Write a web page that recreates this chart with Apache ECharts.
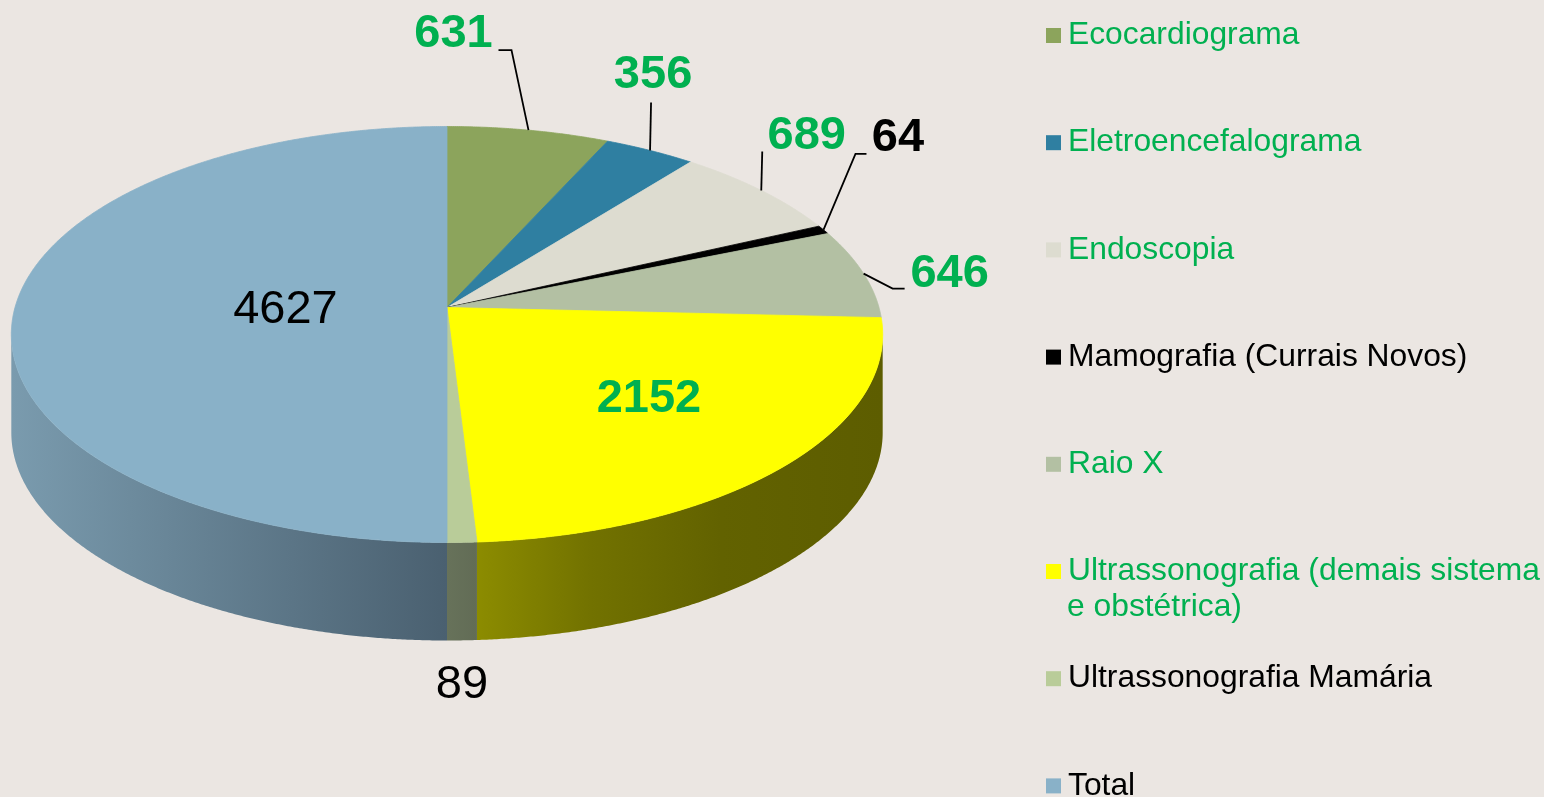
<!DOCTYPE html>
<html><head><meta charset="utf-8">
<script src="https://cdn.jsdelivr.net/npm/echarts@6/dist/echarts.min.js"></script>
<style>html,body{margin:0;padding:0;background:#ebe6e2}#c{width:1544px;height:797px}</style>
</head><body><div id="c"></div>
<script>
// ---- data ----
const categories = ['Ecocardiograma','Eletroencefalograma','Endoscopia','Mamografia (Currais Novos)','Raio X','Ultrassonografia (demais sistema e obstétrica)','Ultrassonografia Mamária','Total'];
const values = [631, 356, 689, 64, 646, 2152, 89, 4627];

// ---- styles ----
const topColors = ['#8ca45c','#2f7fa1','#dddcd0','#000000','#b3c0a3','#ffff00','#b9cc99','#89b1c8'];
const wallStops = [
  [[0,'#6d7f48'],[1,'#4f5c33']],
  [[0,'#245f78'],[1,'#1a4658']],
  [[0,'#aeada3'],[1,'#8a897f']],
  [[0,'#000000'],[1,'#000000']],
  [[0,'#8c977f'],[1,'#6a735f']],
  [[0,'#8c8c00'],[0.28,'#727200'],[0.6,'#626200'],[1,'#5d5d00']],
  [[0,'#67725a'],[1,'#626c56']],
  [[0,'#7a9bae'],[1,'#4a6070']]
];
const green = '#00b050';
const legendTextColors = [green, green, green, '#000000', green, green, '#000000', '#000000'];
const labelColors = [green, green, green, '#000000', green, green, '#000000', '#000000'];
const labelBold = [true, true, true, true, true, true, false, false];
// label layout: mode 'edge' = relative to outer edge point at mid-angle; 'in' = at radius fraction f
const labelLayout = [
  {mode:'edge', leader:[[-17,-80],[-30,-80]], text:[-75,-96]},
  {mode:'edge', leader:[[1,-48]], text:[3,-75]},
  {mode:'edge', leader:[[1,-39]], text:[45.5,-54]},
  {mode:'edge', leader:[[32,-76],[43,-76]], text:[74.5,-92]},
  {mode:'edge', leader:[[29,15],[41,15]], text:[86,0.5]},
  {mode:'in', f:0.6, text:[7,0]},
  {mode:'edge', leader:null, text:[0,143]},
  {mode:'in', f:0.374, text:[0,3]}
];
const FONT = '"Liberation Sans", Arial, sans-serif';

// ---- geometry of the tilted pie ----
const CX = 447, CY = 307.5, R = 432, RY = 204.5, K = 0.1298, DEPTH = 98;
const TAU = Math.PI * 2;
const totalSum = values.reduce((a, b) => a + b, 0);

function proj(theta, f) {
  const s = Math.sin(theta) * f, c = Math.cos(theta) * f;
  const w = 1 / (1 + K * c);
  return [CX + R * s * w, CY - RY * c * w];
}

function renderSlice(params, api) {
  const i = params.seriesIndex;
  const val = api.value(0);
  let start = 0;
  for (let j = 0; j < i; j++) start += values[j];
  const a1 = start / totalSum * TAU;
  const a2 = (start + val) / totalSum * TAU;
  const children = [];

  // visible outer wall
  const vis1 = Math.acos(-K), vis2 = TAU - vis1;
  const w1 = Math.max(a1, vis1), w2 = Math.min(a2, vis2);
  if (w2 > w1) {
    const n = Math.max(2, Math.ceil((w2 - w1) / 0.005));
    const topPts = [], botPts = [];
    for (let t = 0; t <= n; t++) {
      const p = proj(w1 + (w2 - w1) * t / n, 1);
      topPts.push(p);
      botPts.push([p[0], p[1] + DEPTH]);
    }
    const pts = topPts.concat(botPts.reverse());
    const grad = new echarts.graphic.LinearGradient(0, 0, 1, 0,
      wallStops[i].map(s => ({offset: s[0], color: s[1]})));
    children.push({type: 'polygon', shape: {points: pts},
      style: {fill: grad, stroke: null}});
  }

  // top face
  const n2 = Math.max(2, Math.ceil((a2 - a1) / 0.005));
  const face = [[CX, CY]];
  for (let t = 0; t <= n2; t++) face.push(proj(a1 + (a2 - a1) * t / n2, 1));
  children.push({type: 'polygon', shape: {points: face},
    style: {fill: topColors[i], stroke: topColors[i], lineWidth: 0.8}});

  // label
  const mid = (a1 + a2) / 2;
  const L = labelLayout[i];
  let anchor;
  if (L.mode === 'edge') {
    anchor = proj(mid, 1);
    if (L.leader) {
      const lp = [anchor].concat(L.leader.map(d => [anchor[0] + d[0], anchor[1] + d[1]]));
      children.push({type: 'polyline', shape: {points: lp},
        style: {stroke: '#000', lineWidth: 1.8, fill: null}, z2: 10});
    }
  } else {
    anchor = proj(mid, L.f);
  }
  children.push({type: 'text', x: anchor[0] + L.text[0], y: anchor[1] + L.text[1], z2: 20,
    style: {text: String(val), fill: labelColors[i],
      fontSize: 47, fontWeight: labelBold[i] ? 'bold' : 'normal', fontFamily: FONT,
      align: 'center', verticalAlign: 'middle'}});

  return {type: 'group', children};
}

const splitName = categories[5].split(' e obstétrica');
const option = {
  backgroundColor: '#ebe6e2',
  animation: false,
  legend: {
    orient: 'vertical', left: 1041, top: 12, height: 1200, itemWidth: 19, itemHeight: 15,
    icon: 'path://M0,0h15v15h-15z', itemGap: 70.2, selectedMode: false,
    textStyle: {fontSize: 31.8, fontFamily: FONT, lineHeight: 37},
    formatter: name => name === categories[5] ? splitName[0] : name,
    data: categories.map((n, i) => ({name: n, textStyle: {color: legendTextColors[i]}}))
  },
  graphic: [{type: 'text', x: 1067, y: 607,
    style: {text: 'e obstétrica' + splitName[1], fill: legendTextColors[5],
      fontSize: 31.8, fontFamily: FONT, verticalAlign: 'middle'}}],
  series: categories.map((name, i) => ({
    type: 'custom', name, coordinateSystem: 'none', silent: true,
    itemStyle: {color: topColors[i]},
    data: [[values[i]]],
    renderItem: renderSlice
  }))
};
const chart = echarts.init(document.getElementById('c'));
chart.setOption(option);
</script></body></html>
